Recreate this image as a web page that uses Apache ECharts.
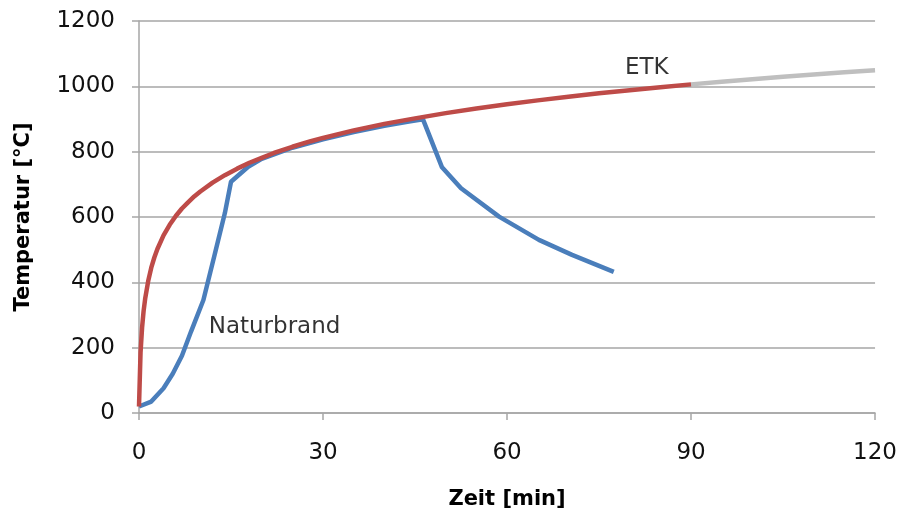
<!DOCTYPE html>
<html>
<head>
<meta charset="utf-8">
<script src="https://cdn.jsdelivr.net/npm/echarts@6/dist/echarts.min.js"></script>
<style>
  html, body { margin: 0; padding: 0; background: #ffffff; }
  #chart { width: 900px; height: 516px; }
</style>
</head>
<body>
<div id="chart"></div>
<script>
// Zeit in Minuten, Temperatur in °C
const etkTime = [0, 0.25, 0.5, 0.75, 1, 1.5, 2, 2.5, 3, 4, 5, 6, 7, 8, 9, 10, 12, 14, 16, 18, 20, 22, 25, 28, 30, 35, 40, 45, 50, 55, 60, 65, 70, 75, 80, 85, 90];
const etkTemp = [20, 185, 261, 312, 349, 404, 445, 476, 502, 544, 576, 603, 626, 645, 663, 678, 705, 728, 748, 766, 781, 796, 815, 832, 842, 865, 885, 902, 918, 932, 945, 957, 968, 979, 988, 997, 1006];

const etkTailTime = [90, 95, 100, 105, 110, 115, 120];
const etkTailTemp = [1006, 1014, 1022, 1029, 1036, 1043, 1049];

const brandTime = [0, 2, 4, 5.5, 7, 8.5, 10.5, 12.4, 14, 15, 17.8, 20, 25, 30, 35, 40, 44, 46.3, 49.4, 52.5, 58.7, 65.2, 70.6, 77.4];
const brandTemp = [20, 35, 76, 120, 175, 250, 346, 490, 612, 708, 754, 778, 812, 838, 860, 879, 892, 899, 752, 688, 601, 530, 484, 432];

const xTicks = [0, 30, 60, 90, 120];
const yTicks = [0, 200, 400, 600, 800, 1000, 1200];

const curveLabels = ['ETK', 'Naturbrand'];
const labelTime = [82.8, 22.1];
const labelTemp = [1055, 263];

const pairs = (xs, ys) => xs.map((x, i) => [x, ys[i]]);
const font = '"DejaVu Sans", sans-serif';
const axisGrey = '#a6a6a6';

const chart = echarts.init(document.getElementById('chart'));
chart.setOption({
  animation: false,
  backgroundColor: '#ffffff',
  grid: { left: 139, right: 23, top: 21, bottom: 103, containLabel: false },
  xAxis: {
    type: 'value',
    min: xTicks[0], max: xTicks[xTicks.length - 1], interval: 30,
    name: 'Zeit [min]', nameLocation: 'middle', nameGap: 76,
    nameTextStyle: { fontFamily: font, fontSize: 21, fontWeight: 'bold', color: '#000' },
    axisLine: { show: true, lineStyle: { color: axisGrey, width: 1.5 } },
    axisTick: { show: true, length: 7, lineStyle: { color: axisGrey, width: 1.5 } },
    axisLabel: { margin: 29, fontFamily: font, fontSize: 23, color: '#111', formatter: v => String(v) },
    splitLine: { show: false }
  },
  yAxis: {
    type: 'value',
    min: yTicks[0], max: yTicks[yTicks.length - 1], interval: 200,
    name: 'Temperatur [°C]', nameLocation: 'middle', nameGap: 105,
    nameTextStyle: { fontFamily: font, fontSize: 21, fontWeight: 'bold', color: '#000' },
    axisLine: { show: true, lineStyle: { color: axisGrey, width: 1.5 } },
    axisTick: { show: true, length: 7, lineStyle: { color: axisGrey, width: 1.5 } },
    axisLabel: { margin: 24, fontFamily: font, fontSize: 23, color: '#111', formatter: v => String(v) },
    splitLine: { show: true, lineStyle: { color: axisGrey, width: 1.5 } }
  },
  series: [
    {
      name: 'ETK Verlauf', type: 'line', data: pairs(etkTailTime, etkTailTemp),
      showSymbol: false,
      lineStyle: { color: '#bfbfbf', width: 4.5 }, z: 2
    },
    {
      name: 'Naturbrand', type: 'line', data: pairs(brandTime, brandTemp),
      showSymbol: false,
      lineStyle: { color: '#4a7ebb', width: 4.5 }, z: 3
    },
    {
      name: 'ETK', type: 'line', data: pairs(etkTime, etkTemp),
      showSymbol: false,
      lineStyle: { color: '#be4b48', width: 4.5 }, z: 4
    },
    {
      name: 'Beschriftung', type: 'scatter', symbolSize: 0, silent: true, z: 5,
      data: curveLabels.map((t, i) => ({ value: [labelTime[i], labelTemp[i]], name: t })),
      label: {
        show: true, position: 'inside', formatter: p => p.name,
        fontFamily: font, fontSize: 23, color: '#000'
      }
    }
  ]
});
</script>
</body>
</html>
